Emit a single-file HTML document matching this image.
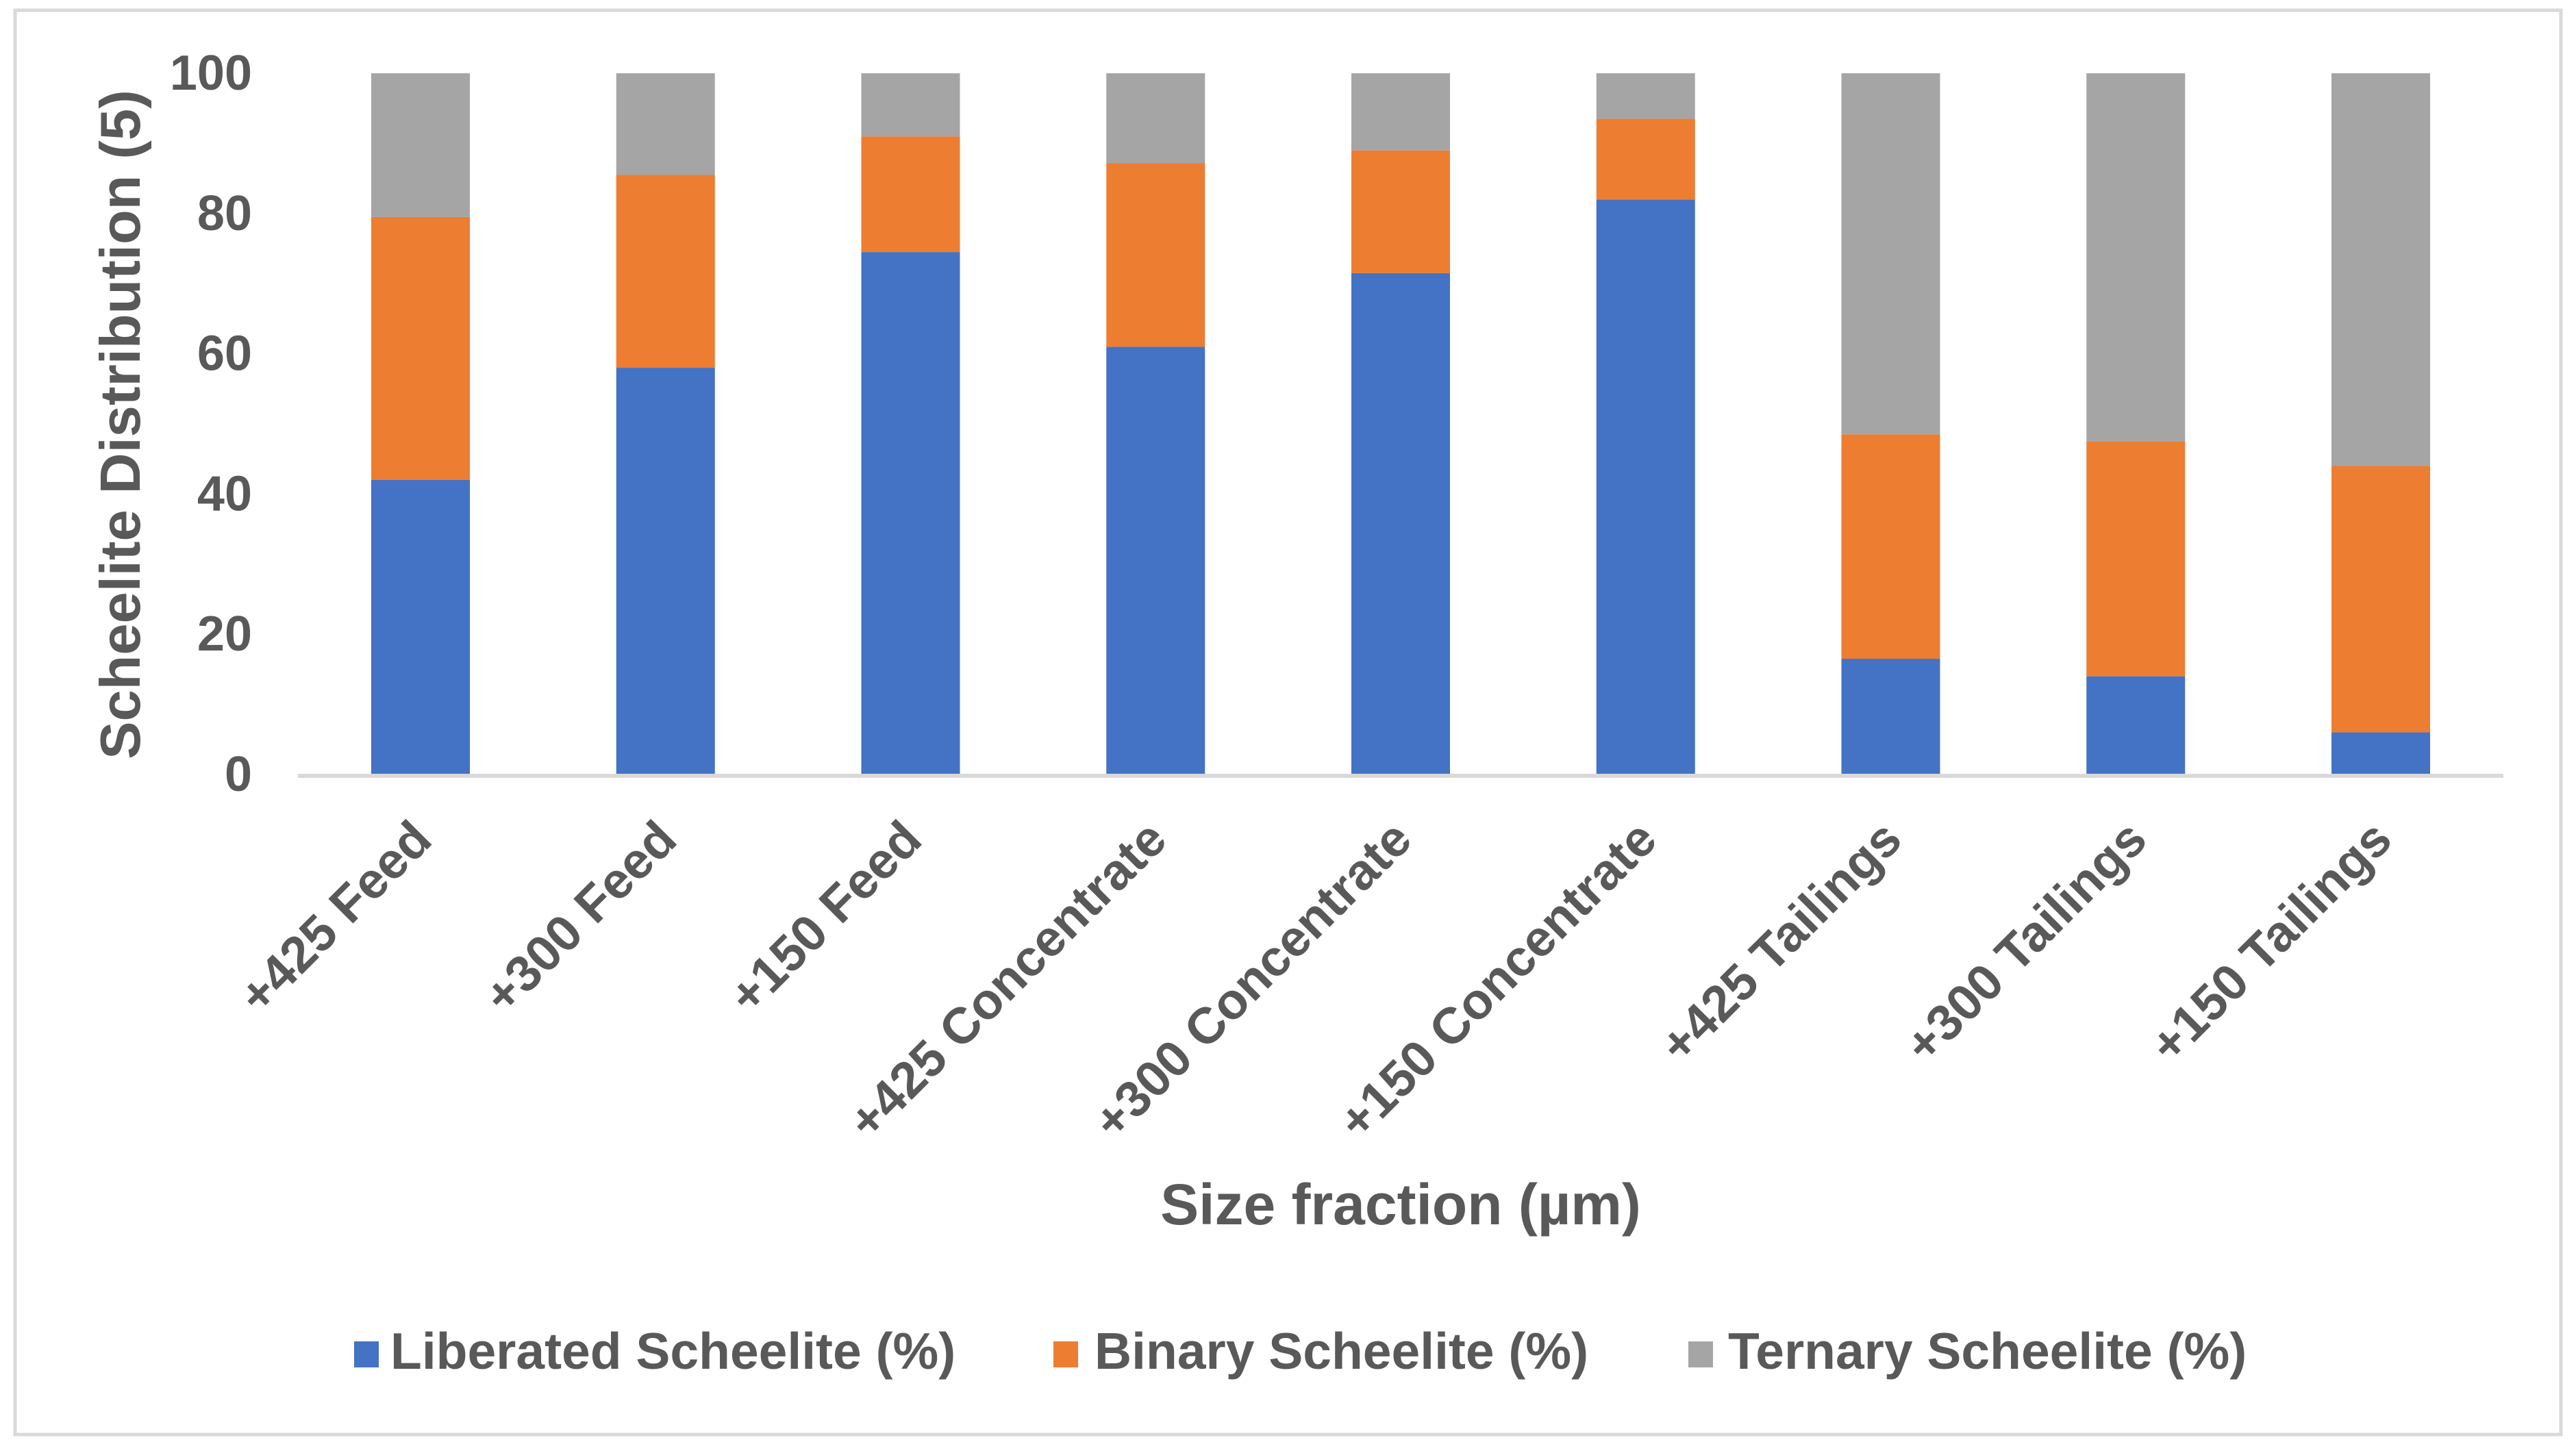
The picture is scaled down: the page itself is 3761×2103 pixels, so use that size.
<!DOCTYPE html>
<html><head><meta charset="utf-8"><style>
html,body{margin:0;padding:0;background:#fff;}
svg{display:block;font-family:"Liberation Sans",Arial,sans-serif;font-weight:bold;}
</style></head><body>
<svg id="chart" width="3761" height="2103" viewBox="0 0 3761 2103" xmlns="http://www.w3.org/2000/svg">
<rect x="22" y="15" width="3717" height="2080" fill="#fff" stroke="#D9D9D9" stroke-width="5"/>
<g id="bars"></g>
<g id="xlabels"></g>
<g id="ylabels"></g>
<line x1="435" y1="1133" x2="3655" y2="1133" stroke="#D9D9D9" stroke-width="6"/>
<text x="182" y="620" transform="rotate(-90 182 620)" text-anchor="middle" dominant-baseline="middle" font-size="83" fill="#595959">Scheelite Distribution (5)</text>
<text x="2045" y="1788" text-anchor="middle" font-size="84" fill="#595959">Size fraction (µm)</text>
<g>
<g>
<rect x="517" y="1959" width="36" height="38" fill="#4472C4"/>
<text x="570" y="1999" font-size="75" fill="#595959">Liberated Scheelite (%)</text></g>
<g>
<rect x="1538" y="1959" width="36" height="38" fill="#ED7D31"/>
<text x="1598" y="1999" font-size="75" fill="#595959">Binary Scheelite (%)</text></g>
<g>
<rect x="2465" y="1959" width="36" height="38" fill="#A5A5A5"/>
<text x="2523" y="1999" font-size="75" fill="#595959">Ternary Scheelite (%)</text></g>
</g>
</svg>
<script>
const categories = ["+425 Feed","+300 Feed","+150 Feed","+425 Concentrate","+300 Concentrate","+150 Concentrate","+425 Tailings","+300 Tailings","+150 Tailings"];
const liberated = [42, 58, 74.5, 61, 71.5, 82, 16.5, 14, 6];
const binary = [37.5, 27.5, 16.5, 26.2, 17.5, 11.5, 32, 33.5, 38];
const ternary = [20.5, 14.5, 9, 12.8, 11, 6.5, 51.5, 52.5, 56];
const yTicks = [0, 20, 40, 60, 80, 100];

const NS = "http://www.w3.org/2000/svg";
const y0 = 1131, y100 = 107;
function yScale(v){ return y0 - (v/100)*(y0 - y100); }
const firstCenter = 614, pitch = 357.75, barW = 144;
function xScale(i){ return firstCenter + i*pitch; }

const seriesList = [
  {name:"liberated", vals:liberated, color:"#4472C4"},
  {name:"binary", vals:binary, color:"#ED7D31"},
  {name:"ternary", vals:ternary, color:"#A5A5A5"}
];
const barsG = document.getElementById("bars");
categories.forEach((c, i) => {
  let base = 0;
  seriesList.forEach(s => {
    const v = s.vals[i];
    const r = document.createElementNS(NS, "rect");
    r.setAttribute("x", xScale(i) - barW/2);
    r.setAttribute("y", yScale(base + v));
    r.setAttribute("width", barW);
    r.setAttribute("height", yScale(base) - yScale(base + v));
    r.setAttribute("fill", s.color);
    
    
    barsG.appendChild(r);
    base += v;
  });
  const t = document.createElementNS(NS, "text");
  const lx = xScale(i) + 20, ly = 1230;
  t.setAttribute("x", lx);
  t.setAttribute("y", ly);
  t.setAttribute("transform", "rotate(-45 " + lx + " " + ly + ")");
  t.setAttribute("text-anchor", "end");
  t.setAttribute("font-size", "74");
  t.setAttribute("fill", "#595959");
  t.textContent = c;
  
  
  document.getElementById("xlabels").appendChild(t);
});
yTicks.forEach(v => {
  const t = document.createElementNS(NS, "text");
  t.setAttribute("x", 368);
  t.setAttribute("y", yScale(v));
  t.setAttribute("text-anchor", "end");
  t.setAttribute("dominant-baseline", "central");
  t.setAttribute("font-size", "72");
  t.setAttribute("fill", "#595959");
  t.textContent = v;
  
  
  document.getElementById("ylabels").appendChild(t);
});
</script>
</body></html>
